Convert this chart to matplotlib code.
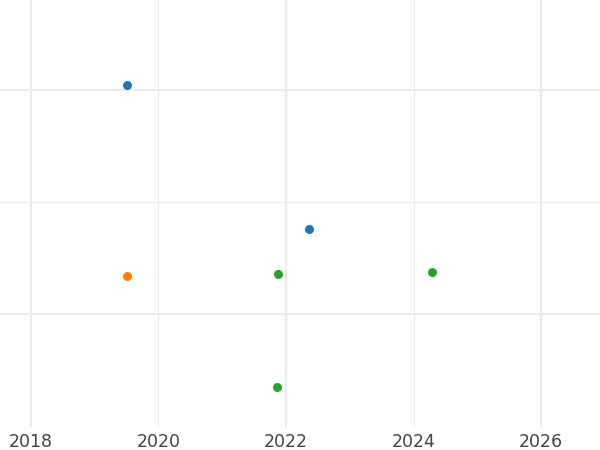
import matplotlib
matplotlib.use('Agg')
from matplotlib import pyplot as plt

# series values (x = year, y = value)
blue_x = [2019.51, 2022.36]
blue_y = [2.045, 0.759]
orange_x = [2019.51]
orange_y = [0.339]
green_x = [2021.88, 2021.86, 2024.29]
green_y = [0.357, -0.652, 0.375]

x_major = [2018, 2022, 2026]
x_minor = [2020, 2024]
y_major = [0, 2]
y_minor = [1]

fig = plt.figure(figsize=(6, 4.5), dpi=100)
ax = fig.add_axes([0, 23 / 450, 1, 427 / 450])

ax.scatter(blue_x, blue_y, color='#1f77b4', s=42, zorder=3, linewidths=0)
ax.scatter(orange_x, orange_y, color='#ff7f0e', s=42, zorder=3, linewidths=0)
ax.scatter(green_x, green_y, color='#2ca02c', s=42, zorder=3, linewidths=0)

ax.set_xlim(2017.514, 2026.925)
ax.set_ylim(-1.009, 2.804)

ax.set_xticks(x_major)
ax.set_xticks(x_minor, minor=True)
ax.set_xticklabels([str(v) for v in x_major])
ax.set_xticklabels([str(v) for v in x_minor], minor=True)
ax.set_yticks(y_major)
ax.set_yticks(y_minor, minor=True)
ax.set_yticklabels([])
ax.set_yticklabels([], minor=True)

ax.grid(True, which='major', color='#ebebeb', linewidth=1.5)
ax.grid(True, which='minor', color='#ececec', linewidth=0.9)
ax.set_axisbelow(True)

ax.tick_params(axis='both', which='both', length=0)
ax.tick_params(axis='x', which='both', labelsize=12.5, labelcolor='#444444', pad=4)
for s in ax.spines.values():
    s.set_visible(False)

plt.savefig('out.png', dpi=100)
plt.close()
